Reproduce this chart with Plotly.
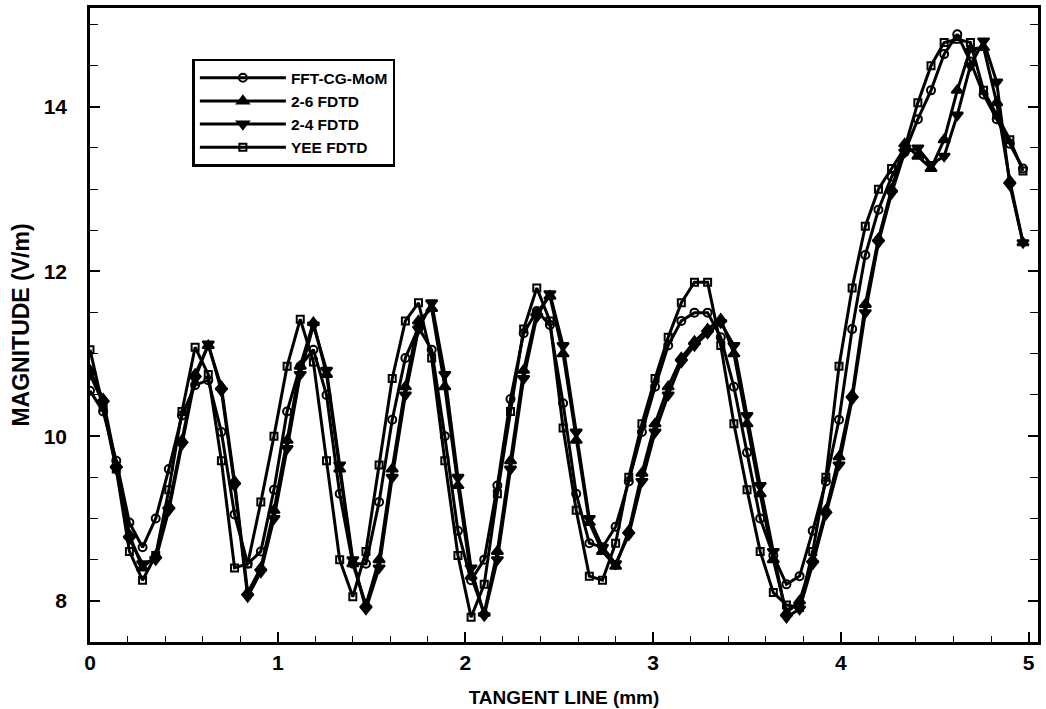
import plotly.graph_objects as go

# Tangent-line position (mm)
x_mm = [0.00, 0.07, 0.14, 0.21, 0.28, 0.35, 0.42, 0.49, 0.56, 0.63,
        0.70, 0.77, 0.84, 0.91, 0.98, 1.05, 1.12, 1.19, 1.26, 1.33,
        1.40, 1.47, 1.54, 1.61, 1.68, 1.75, 1.82, 1.89, 1.96, 2.03,
        2.10, 2.17, 2.24, 2.31, 2.38, 2.45, 2.52, 2.59, 2.66, 2.73,
        2.80, 2.87, 2.94, 3.01, 3.08, 3.15, 3.22, 3.29, 3.36, 3.43,
        3.50, 3.57, 3.64, 3.71, 3.78, 3.85, 3.92, 3.99, 4.06, 4.13,
        4.20, 4.27, 4.34, 4.41, 4.48, 4.55, 4.62, 4.69, 4.76, 4.83,
        4.90, 4.97]

fft_cg_mom = [10.55, 10.30, 9.70, 8.95, 8.65, 9.00, 9.60, 10.25, 10.62, 10.68,
              10.05, 9.05, 8.45, 8.60, 9.35, 10.30, 10.85, 11.05, 10.50, 9.30,
              8.45, 8.45, 9.20, 10.20, 10.95, 11.32, 11.05, 10.00, 8.85, 8.25,
              8.50, 9.40, 10.45, 11.25, 11.52, 11.35, 10.40, 9.30, 8.70, 8.65,
              8.90, 9.45, 10.05, 10.60, 11.10, 11.40, 11.50, 11.50, 11.20, 10.60,
              9.80, 9.00, 8.55, 8.20, 8.30, 8.85, 9.45, 10.20, 11.30, 12.20,
              12.75, 13.15, 13.45, 13.85, 14.20, 14.64, 14.88, 14.55, 14.15, 13.85,
              13.55, 13.25]

fdtd_2_6 = [10.80, 10.45, 9.65, 8.80, 8.40, 8.55, 9.15, 9.95, 10.75, 11.10,
            10.60, 9.45, 8.10, 8.40, 9.10, 9.95, 10.85, 11.38, 10.75, 9.60,
            8.45, 7.95, 8.50, 9.60, 10.60, 11.40, 11.55, 10.60, 9.40, 8.30,
            7.85, 8.60, 9.70, 10.80, 11.50, 11.70, 11.00, 9.95, 8.95, 8.60,
            8.42, 8.85, 9.55, 10.15, 10.60, 10.95, 11.15, 11.30, 11.42, 11.00,
            10.15, 9.30, 8.50, 7.85, 8.00, 8.50, 9.10, 9.75, 10.50, 11.60,
            12.40, 13.00, 13.55, 13.40, 13.25, 13.60, 14.20, 14.70, 14.72, 14.05,
            13.10, 12.35]

fdtd_2_4 = [10.75, 10.40, 9.60, 8.75, 8.45, 8.50, 9.10, 9.90, 10.70, 11.12,
            10.55, 9.40, 8.05, 8.35, 9.00, 9.85, 10.75, 11.35, 10.80, 9.65,
            8.50, 7.90, 8.40, 9.50, 10.50, 11.30, 11.62, 10.75, 9.50, 8.40,
            7.82, 8.50, 9.60, 10.70, 11.45, 11.73, 11.10, 10.05, 9.00, 8.65,
            8.45, 8.80, 9.45, 10.05, 10.50, 10.90, 11.10, 11.25, 11.38, 11.10,
            10.25, 9.40, 8.60, 7.80, 7.90, 8.45, 9.05, 9.65, 10.45, 11.50,
            12.35, 12.95, 13.45, 13.50, 13.30, 13.40, 13.90, 14.50, 14.80, 14.30,
            13.05, 12.35]

yee_fdtd = [11.05, 10.35, 9.60, 8.60, 8.25, 8.55, 9.35, 10.30, 11.08, 10.75,
            9.70, 8.40, 8.45, 9.20, 10.00, 10.85, 11.42, 10.90, 9.70, 8.50,
            8.05, 8.60, 9.65, 10.70, 11.40, 11.62, 10.95, 9.70, 8.55, 7.80,
            8.20, 9.30, 10.30, 11.30, 11.80, 11.40, 10.10, 9.10, 8.30, 8.25,
            8.70, 9.50, 10.15, 10.70, 11.20, 11.62, 11.87, 11.87, 11.10, 10.15,
            9.35, 8.60, 8.10, 7.95, 7.92, 8.60, 9.50, 10.85, 11.80, 12.55,
            13.00, 13.25, 13.50, 14.05, 14.50, 14.78, 14.82, 14.78, 14.20, 13.90,
            13.60, 13.22]

series_names = ["FFT-CG-MoM", "2-6 FDTD", "2-4 FDTD", "YEE FDTD"]
series_values = [fft_cg_mom, fdtd_2_6, fdtd_2_4, yee_fdtd]
series_symbols = ["circle-open", "triangle-up", "triangle-down", "square-open"]
series_sizes = [8, 10, 10, 7]

fig = go.Figure()
for name, vals, sym, sz in zip(series_names, series_values, series_symbols, series_sizes):
    fig.add_trace(go.Scatter(
        x=x_mm, y=vals, name=name, mode="lines+markers",
        line=dict(color="black", width=3),
        marker=dict(symbol=sym, size=sz, color="black",
                    line=dict(color="black", width=2)),
    ))

font_family = "Liberation Sans, Arial"
tick_font = dict(family=font_family, size=21, color="black", weight="bold")

fig.update_layout(
    width=1046, height=709,
    margin=dict(l=90, r=8, t=8, b=67),
    paper_bgcolor="white", plot_bgcolor="white",
    showlegend=True,
    legend=dict(
        x=0.108, y=0.92, xanchor="left", yanchor="top",
        bordercolor="black", borderwidth=2.5, bgcolor="white",
        font=dict(family=font_family, size=15.5, color="black", weight="bold"),
        itemwidth=86, tracegroupgap=0,
    ),
    xaxis=dict(
        range=[0, 5.05], showgrid=False, zeroline=False, automargin=False,
        showline=True, linecolor="black", linewidth=2.5, mirror=True,
        ticks="inside", ticklen=10, tickwidth=1.5, tickcolor="black",
        tickvals=[0, 1, 2, 3, 4, 5], ticktext=["0", "1", "2", "3", "4", "5"],
        tickfont=tick_font,
        minor=dict(dtick=0.2, ticks="inside", ticklen=6, tickwidth=1.2, tickcolor="black", showgrid=False),
        title=dict(text="TANGENT LINE (mm)",
                   font=dict(family=font_family, size=19, color="black", weight="bold"),
                   standoff=18),
    ),
    yaxis=dict(
        range=[7.5, 15.2], showgrid=False, zeroline=False, automargin=False,
        showline=True, linecolor="black", linewidth=2.5, mirror="ticks",
        ticks="inside", ticklen=10, tickwidth=1.5, tickcolor="black",
        tickvals=[8, 10, 12, 14], ticktext=["8", "10", "12", "14"],
        tickfont=tick_font, ticklabelstandoff=16,
        minor=dict(dtick=0.5, tick0=0, ticks="inside", ticklen=8, tickwidth=1.2, tickcolor="black", showgrid=False),
        title=dict(text="MAGNITUDE (V/m)",
                   font=dict(family=font_family, size=23, color="black", weight="bold"),
                   standoff=8),
    ),
)

fig.write_html("out.html")
